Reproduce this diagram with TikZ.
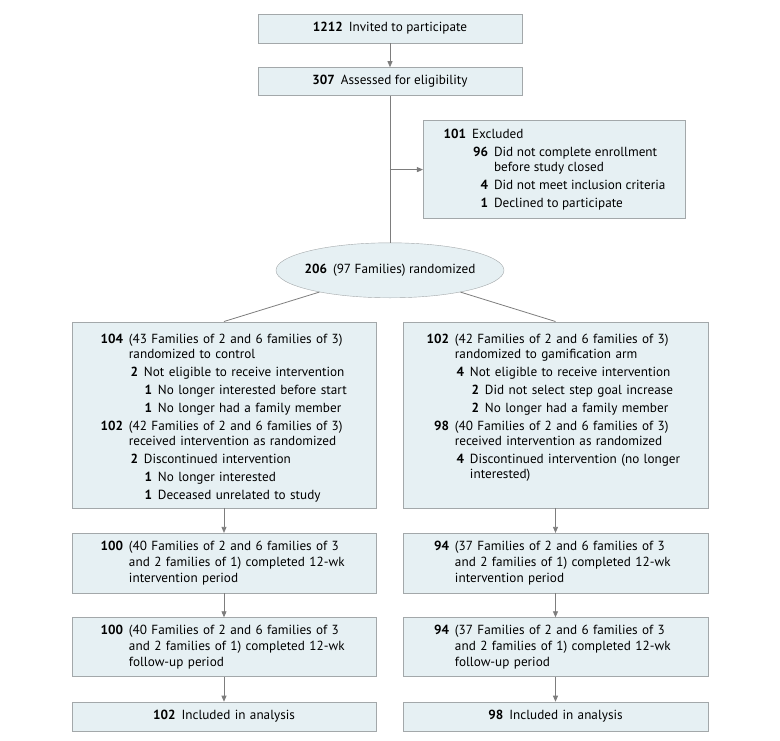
\documentclass[tikz,border=0pt]{standalone}
\usepackage{fontspec}
\setmainfont{PT Sans}
\usepackage{tikz}
\usetikzlibrary{shapes.geometric}
\usetikzlibrary{positioning}
\usetikzlibrary{arrows.meta}
\definecolor{boxfill}{HTML}{E6F0F3}
\definecolor{boxline}{HTML}{A3A8AA}
\definecolor{linegray}{HTML}{7D7D7D}
\newcommand{\flowitem}[3]{\hspace*{#1}\makebox[23pt][r]{\textbf{#2}}\kern6pt\mbox{#3}}
\tikzstyle{flowbox} = [rectangle, draw=boxline, fill=boxfill, font=\fontsize{13.2}{15}\selectfont]
\tikzstyle{topbox} = [flowbox, minimum width=264pt, minimum height=29pt, text centered]
\tikzstyle{exclbox} = [flowbox, minimum width=262pt, minimum height=98pt, align=left]
\tikzstyle{randbox} = [ellipse, draw=boxline, fill=boxfill, inner sep=0pt, minimum width=228pt, minimum height=55pt, font=\fontsize{13.2}{15}\selectfont]
\tikzstyle{leftcol} = [flowbox, text width=248pt, inner xsep=28pt, align=left]
\tikzstyle{rightcol} = [flowbox, text width=259pt, inner xsep=23pt, align=left]
\tikzstyle{armbox} = [text height=12pt, text depth=154pt, inner ysep=10pt]
\tikzstyle{period} = [minimum height=60pt]
\tikzstyle{final} = [minimum height=29pt, align=center]
\tikzstyle{line} = [draw=linegray, line width=0.8pt]
\tikzstyle{arrow} = [line, -{Triangle[length=6pt,width=5pt]}]

\begin{document}
\begin{tikzpicture}[node distance=24pt]
        \useasboundingbox (-390pt,28.5pt) rectangle (390pt,-711.5pt);
        \node (invited) [topbox] {\textbf{1212}\hspace{6pt}Invited to participate};
        \node (assessed) [topbox, below=of invited, minimum height=28pt] {\textbf{307}\hspace{6pt}Assessed for eligibility};
        \coordinate [below=74pt of assessed] (split);
        \node (excluded) [exclbox, right=33pt of split] {\flowitem{0pt}{101}{Excluded}\\[3pt]
            \flowitem{22pt}{96}{Did not complete enrollment}\\
            \hspace*{51pt}before study closed\\[3pt]
            \flowitem{22pt}{4}{Did not meet inclusion criteria}\\[3pt]
            \flowitem{22pt}{1}{Declined to participate}};
        \node (random) [randbox, below=147pt of assessed] {\makebox[0pt]{\textbf{206}\hspace{6pt}(97 Families) randomized}};

        % control arm
        \node (ctrl) [leftcol, armbox, below=23.5pt of random.south, xshift=-166pt] {\flowitem{0pt}{104}{(43 Families of 2 and 6 families of 3)}\\
            \hspace*{29pt}randomized to control\\[3pt]
            \flowitem{15pt}{2}{Not eligible to receive intervention}\\[3pt]
            \flowitem{29pt}{1}{No longer interested before start}\\[3pt]
            \flowitem{29pt}{1}{No longer had a family member}\\[3pt]
            \flowitem{0pt}{102}{(42 Families of 2 and 6 families of 3)}\\
            \hspace*{29pt}received intervention as randomized\\[3pt]
            \flowitem{15pt}{2}{Discontinued intervention}\\[3pt]
            \flowitem{29pt}{1}{No longer interested}\\[3pt]
            \flowitem{29pt}{1}{Deceased unrelated to study}};
        \node (ctrlInterv) [leftcol, period, below=25pt of ctrl] {\flowitem{0pt}{100}{(40 Families of 2 and 6 families of 3}\\[1pt]
            \hspace*{29pt}and 2 families of 1) completed 12-wk\\[1pt]
            \hspace*{29pt}intervention period};
        \node (ctrlFollow) [leftcol, period, below=of ctrlInterv, minimum height=59pt] {\flowitem{0pt}{100}{(40 Families of 2 and 6 families of 3}\\[1pt]
            \hspace*{29pt}and 2 families of 1) completed 12-wk\\[1pt]
            \hspace*{29pt}follow-up period};
        \node (ctrlAnalysis) [leftcol, final, below=25pt of ctrlFollow] {\textbf{102}\hspace{6pt}Included in analysis};

        % gamification arm
        \node (gamif) [rightcol, armbox, below=23.5pt of random.south, xshift=165.5pt] {\flowitem{0pt}{102}{(42 Families of 2 and 6 families of 3)}\\
            \hspace*{29pt}randomized to gamification arm\\[3pt]
            \flowitem{15pt}{4}{Not eligible to receive intervention}\\[3pt]
            \flowitem{30pt}{2}{Did not select step goal increase}\\[3pt]
            \flowitem{30pt}{2}{No longer had a family member}\\[3pt]
            \flowitem{0pt}{98}{(40 Families of 2 and 6 families of 3)}\\
            \hspace*{29pt}received intervention as randomized\\[3pt]
            \flowitem{15pt}{4}{Discontinued intervention (no longer}\\
            \hspace*{44pt}interested)};
        \node (gamifInterv) [rightcol, period, below=25pt of gamif] {\flowitem{0pt}{94}{(37 Families of 2 and 6 families of 3}\\[1pt]
            \hspace*{29pt}and 2 families of 1) completed 12-wk\\[1pt]
            \hspace*{29pt}intervention period};
        \node (gamifFollow) [rightcol, period, below=of gamifInterv, minimum height=59pt] {\flowitem{0pt}{94}{(37 Families of 2 and 6 families of 3}\\[1pt]
            \hspace*{29pt}and 2 families of 1) completed 12-wk\\[1pt]
            \hspace*{29pt}follow-up period};
        \node (gamifAnalysis) [rightcol, final, below=25pt of gamifFollow] {\textbf{98}\hspace{6pt}Included in analysis};

        \draw [arrow] (invited) -- (assessed);
        \draw [line] (assessed) -- (random);
        \draw [arrow] (split) -- (excluded);
        \draw [line] (random) -- (ctrl.north);
        \draw [line] (random) -- (gamif.north);
        \draw [arrow] (ctrl) -- (ctrlInterv);
        \draw [arrow] (ctrlInterv) -- (ctrlFollow);
        \draw [arrow] (ctrlFollow) -- (ctrlAnalysis);
        \draw [arrow] (gamif) -- (gamifInterv);
        \draw [arrow] (gamifInterv) -- (gamifFollow);
        \draw [arrow] (gamifFollow) -- (gamifAnalysis);
    \end{tikzpicture}
\end{document}
